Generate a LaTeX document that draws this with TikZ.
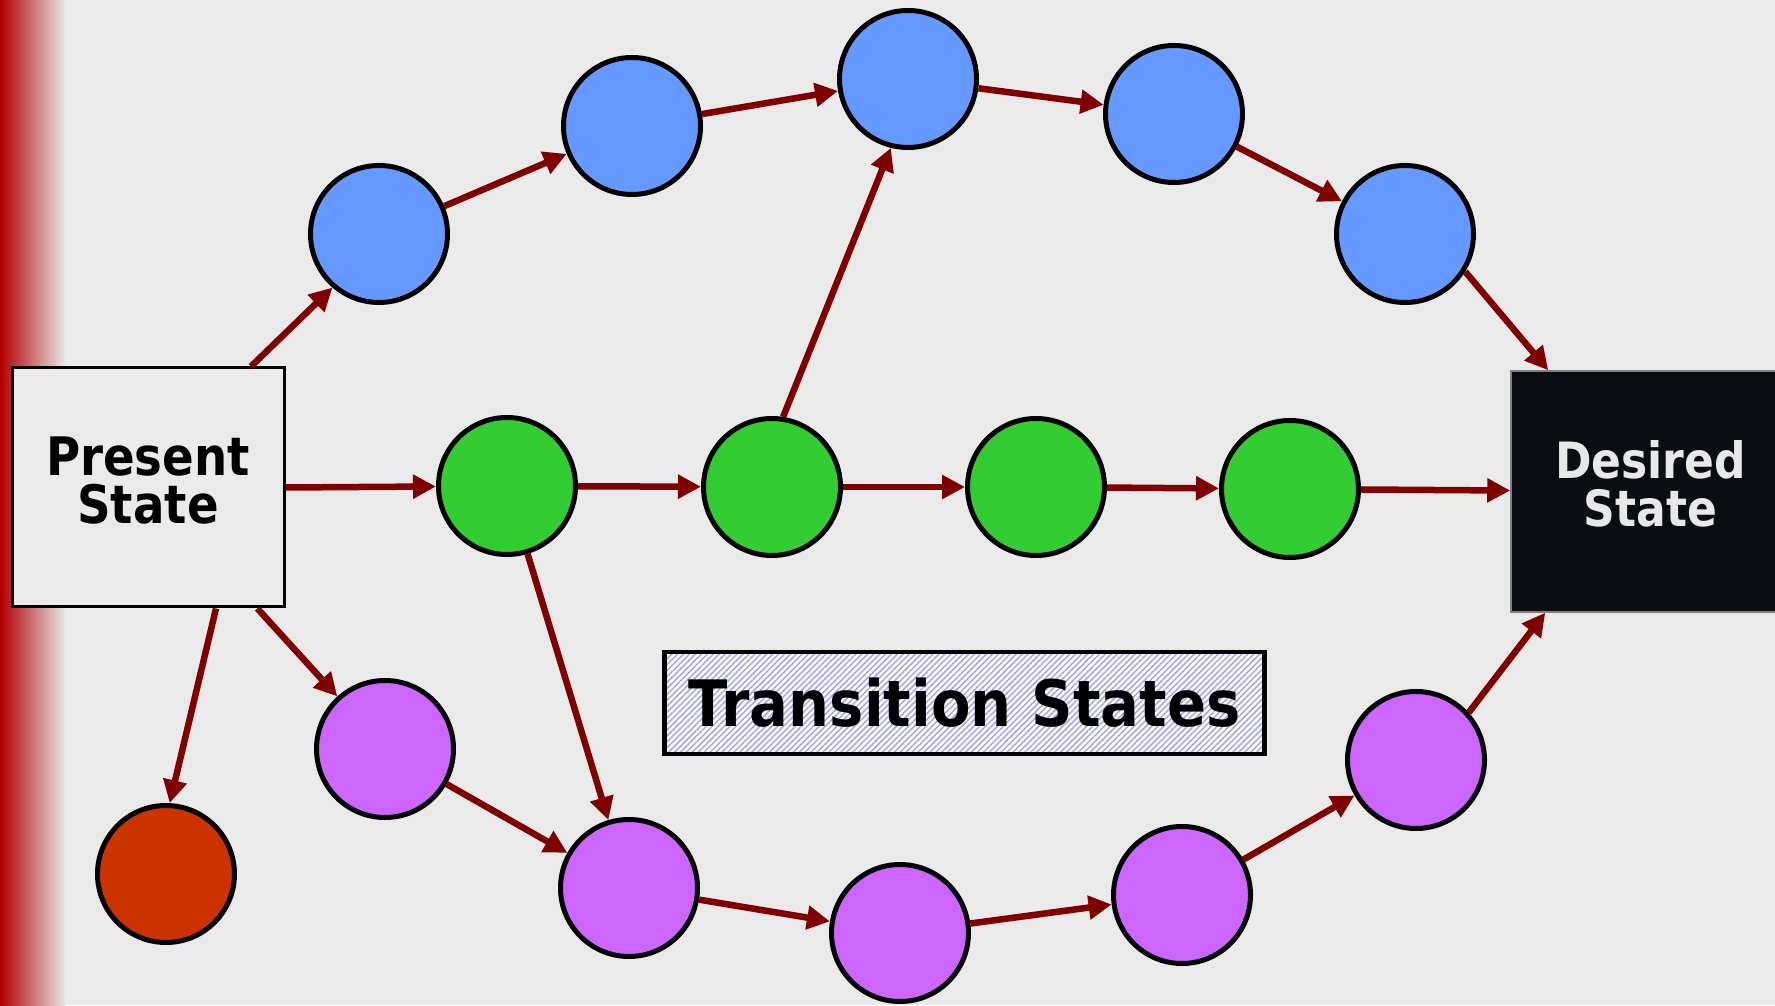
\documentclass[tikz,border=0pt]{standalone}
\usepackage{fontspec}
\setmainfont{DejaVu Sans}[FakeStretch=0.88]
\newfontfamily\capfont{DejaVu Sans}[FakeStretch=0.9]
\usetikzlibrary{arrows.meta,patterns.meta}

\definecolor{bg}{HTML}{EAEAEA}
\definecolor{barred}{HTML}{B00000}
\definecolor{arrowc}{HTML}{800000}
\definecolor{sblue}{HTML}{6699FF}
\definecolor{sgreen}{HTML}{33CC33}
\definecolor{spurple}{HTML}{CC66FF}
\definecolor{srust}{HTML}{CC3300}
\definecolor{deep}{HTML}{0A0D12}
\definecolor{pale}{HTML}{E8E8E8}
\definecolor{hatch}{HTML}{A4A4EE}

\tikzset{
  state/.style={circle, draw=black, line width=5pt, minimum size=137pt, inner sep=0pt},
  bluestate/.style={state, fill=sblue},
  greenstate/.style={state, fill=sgreen},
  purplestate/.style={state, fill=spurple},
  link/.style={draw=arrowc, line width=6.5pt, -{Triangle[length=23pt,width=23pt]}},
  endbox/.style={rectangle, align=center, inner sep=0pt, text depth=15pt,
    font=\bfseries\fontsize{53}{48}\selectfont},
}

\begin{document}
\begin{tikzpicture}[x=1pt,y=1pt]
\useasboundingbox (0,0) rectangle (1775,1005);
% backdrop and red side bar
\fill[bg] (0,0) rectangle (1775,1005);
\shade[left color=barred, right color=bg] (0,0) rectangle (66,1005);
\fill[barred] (0,0) rectangle (3,1005);

% start and goal
\node[endbox, draw=black, line width=3pt, fill=bg, minimum width=272pt, minimum height=239pt]
  (present) at (148,517.5) {Present\\State};
\node[endbox, draw=gray, line width=1.5pt, fill=deep, text=pale, minimum width=279pt, minimum height=241pt,
  font=\bfseries\fontsize{50}{48}\selectfont]
  (desired) at (1650.5,513.5) {Desired\\State};

% caption box
\node[rectangle, draw=black, line width=4.5pt, preaction={fill=white},
  pattern={Lines[angle=45,distance=4.2pt,line width=1.5pt]}, pattern color=hatch,
  minimum width=600pt, minimum height=102pt, inner sep=0pt,
  font=\capfont\bfseries\fontsize{64}{70}\selectfont]
  (caption) at (964.5,302) {Transition States};

% upper path
\node[bluestate] (b1) at (379,771) {};
\node[bluestate] (b2) at (632,879) {};
\node[bluestate] (b3) at (908,926) {};
\node[bluestate] (b4) at (1174,891) {};
\node[bluestate] (b5) at (1405,771) {};

% middle path
\node[greenstate] (g1) at (507,519) {};
\node[greenstate] (g2) at (772,518) {};
\node[greenstate] (g3) at (1036,518) {};
\node[greenstate] (g4) at (1290,516) {};

% lower path
\node[purplestate] (p1) at (385,256) {};
\node[purplestate] (p2) at (629,117) {};
\node[purplestate] (p3) at (900,72) {};
\node[purplestate] (p4) at (1182,110) {};
\node[purplestate] (p5) at (1416,245) {};

% dead end
\node[state, fill=srust] (dead) at (166,131) {};

% connectors
\draw[link] ([xshift=103pt]present.north) -- (b1.229);
\draw[link] (b1) -- (b2);
\draw[link] (b2) -- (b3);
\draw[link] (b3) -- (b4);
\draw[link] (b4) -- (b5);
\draw[link] (b5.-32) -- ([xshift=38pt]desired.north west);

\draw[link] (present.east) -- (g1);
\draw[link] (g1) -- (g2);
\draw[link] (g2) -- (g3);
\draw[link] (g3) -- (g4);
\draw[link] (g4) -- (desired);
\draw[link] (g2.81) -- (b3.256);
\draw[link] (g1) -- (p2);

\draw[link] ([xshift=68pt]present.south) -- (dead.87);
\draw[link] (present) -- (p1);
\draw[link] (p1) -- (p2);
\draw[link] (p2) -- (p3);
\draw[link] (p3) -- (p4);
\draw[link] (p4) -- (p5);
\draw[link] (p5.42) -- ([xshift=35pt]desired.south west);
\end{tikzpicture}
\end{document}
